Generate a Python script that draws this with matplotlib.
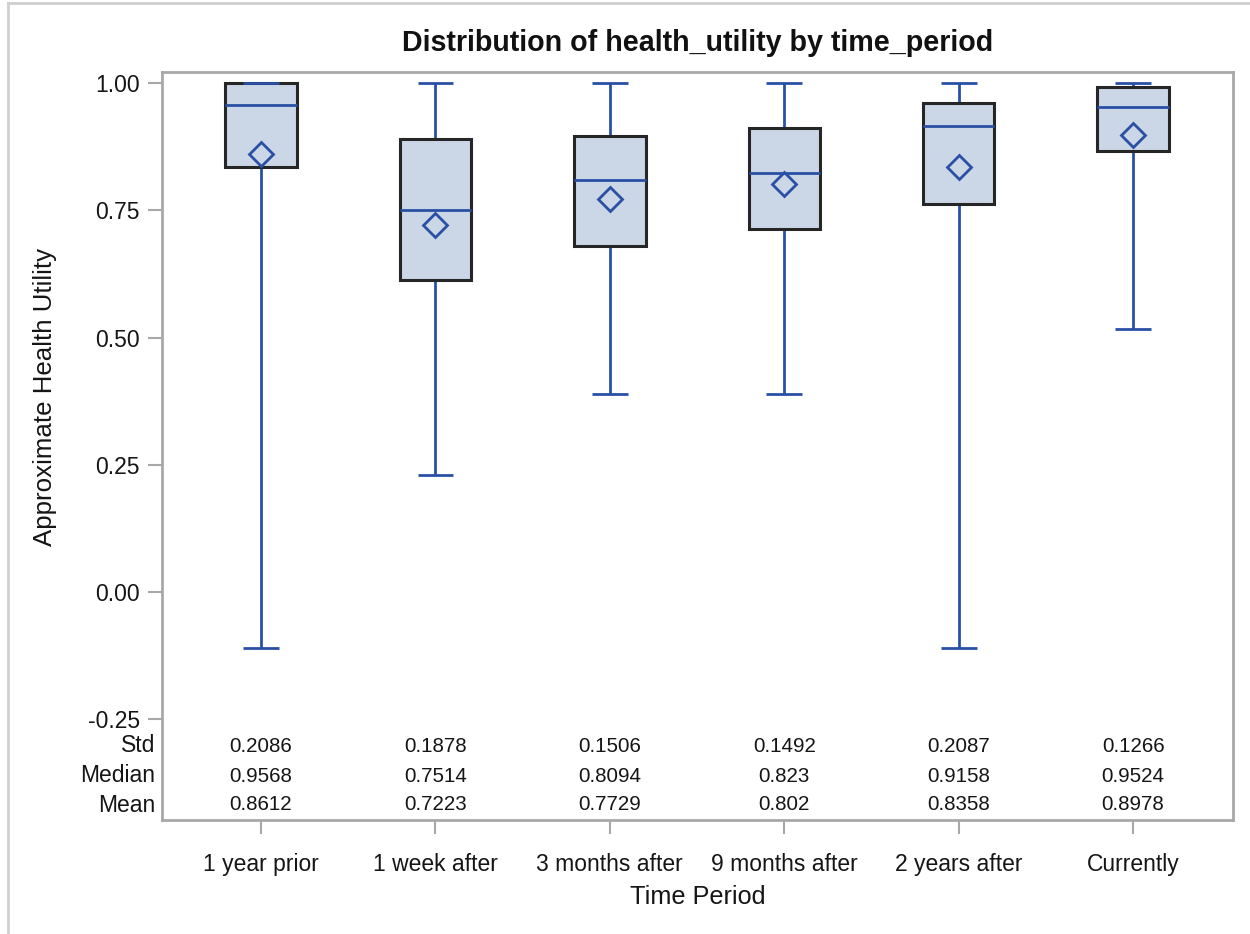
import matplotlib
matplotlib.use("Agg")
import matplotlib.pyplot as plt
from matplotlib.lines import Line2D
from matplotlib.patches import Rectangle
from matplotlib import transforms

plt.rcParams['font.family'] = ['Liberation Sans', 'DejaVu Sans']

# Time periods and summary statistics of health utility
periods = ["1 year prior", "1 week after", "3 months after", "9 months after",
           "2 years after", "Currently"]
whisker_low = [-0.109, 0.23, 0.39, 0.39, -0.109, 0.516]
q1 = [0.836, 0.613, 0.680, 0.713, 0.763, 0.866]
median = [0.9568, 0.7514, 0.8094, 0.823, 0.9158, 0.9524]
q3 = [1.0, 0.890, 0.896, 0.912, 0.962, 0.993]
whisker_high = [1.0, 1.0, 1.0, 1.0, 1.0, 1.0]
mean = [0.8612, 0.7223, 0.7729, 0.802, 0.8358, 0.8978]
std = [0.2086, 0.1878, 0.1506, 0.1492, 0.2087, 0.1266]

median_txt = ["0.9568", "0.7514", "0.8094", "0.823", "0.9158", "0.9524"]
mean_txt = ["0.8612", "0.7223", "0.7729", "0.802", "0.8358", "0.8978"]
std_txt = ["0.2086", "0.1878", "0.1506", "0.1492", "0.2087", "0.1266"]

yticks = [-0.25, 0.0, 0.25, 0.50, 0.75, 1.00]

BLUE = "#2a50a6"
FILL = "#cbd6e6"
EDGE = "#262626"
FRAME = "#a8a8a8"
TEXT = "#151515"

fig = plt.figure(figsize=(12.5, 9.34), dpi=100)
ax = fig.add_axes([162 / 1250, 1 - 820 / 934, 1071 / 1250, 748 / 934])

box_w = 0.41
cap_w = 0.205
for i in range(len(periods)):
    # whiskers and caps
    ax.plot([i, i], [whisker_low[i], q1[i]], color=BLUE, lw=2, zorder=2,
            solid_capstyle='butt')
    ax.plot([i, i], [q3[i], whisker_high[i]], color=BLUE, lw=2, zorder=2,
            solid_capstyle='butt')
    ax.plot([i - cap_w / 2, i + cap_w / 2], [whisker_low[i]] * 2, color=BLUE,
            lw=2, zorder=2, solid_capstyle='butt')
    ax.plot([i - cap_w / 2, i + cap_w / 2], [whisker_high[i]] * 2, color=BLUE,
            lw=2, zorder=2, solid_capstyle='butt')
    # interquartile box
    ax.add_patch(Rectangle((i - box_w / 2, q1[i]), box_w, q3[i] - q1[i],
                           facecolor=FILL, edgecolor=EDGE, lw=2.2, zorder=3))
    if whisker_high[i] == q3[i]:
        ax.plot([i - cap_w / 2, i + cap_w / 2], [whisker_high[i]] * 2,
                color=BLUE, lw=2, zorder=4, solid_capstyle='butt')
    # median
    ax.plot([i - box_w / 2, i + box_w / 2], [median[i]] * 2, color=BLUE,
            lw=2, zorder=4, solid_capstyle='butt')
    # mean
    ax.plot([i], [mean[i]], marker='D', markersize=12.5, markerfacecolor='none',
            markeredgecolor=BLUE, markeredgewidth=2, zorder=5)

ax.set_xlim(-0.568, len(periods) - 1 + 0.573)
ax.set_ylim(-0.448, 1.022)

ax.set_yticks(yticks)
ax.set_yticklabels([f"{t:.2f}" for t in yticks])
ax.set_xticks(range(len(periods)))
ax.set_xticklabels(periods)

ax.tick_params(axis='both', direction='out', length=10, width=1.5,
               color=FRAME, labelsize=16.5, labelcolor=TEXT, pad=6)
ax.tick_params(axis='x', pad=14)
for sp in ax.spines.values():
    sp.set_color(FRAME)
    sp.set_linewidth(2)

# statistics table inside the frame
trans = transforms.blended_transform_factory(ax.transData, ax.transAxes)
rows = [("Std", std_txt, (820 - 746) / 748),
        ("Median", median_txt, (820 - 776) / 748),
        ("Mean", mean_txt, (820 - 805) / 748)]
for name, vals, yy in rows:
    ax.text(-0.006, yy, name, transform=ax.transAxes, ha='right', va='center',
            fontsize=16.5, color=TEXT)
    for i, v in enumerate(vals):
        ax.text(i, yy, v, transform=trans, ha='center', va='center',
                fontsize=14.8, color=TEXT)

ax.set_xlabel("Time Period", fontsize=18.2, color=TEXT)
ax.set_ylabel("Approximate Health Utility", fontsize=18.6, color=TEXT)
ax.yaxis.set_label_coords((57.5 - 162) / 1071, (820 - 397) / 748)
ax.xaxis.set_label_coords(0.5, -(885 - 820) / 748)

fig.text(698 / 1250, 1 - 43 / 934, "Distribution of health_utility by time_period",
         ha='center', va='center', fontsize=20.6, fontweight='bold',
         color='#111111')

# outer light border of the graph area
fig.add_artist(Line2D([8 / 1250, 8 / 1250], [0, 1 - 3 / 934],
                      transform=fig.transFigure, color='#cfcfcf', lw=2))
fig.add_artist(Line2D([8 / 1250, 1], [1 - 3 / 934, 1 - 3 / 934],
                      transform=fig.transFigure, color='#cfcfcf', lw=2))

fig.savefig("out.png", dpi=100, facecolor='white')
